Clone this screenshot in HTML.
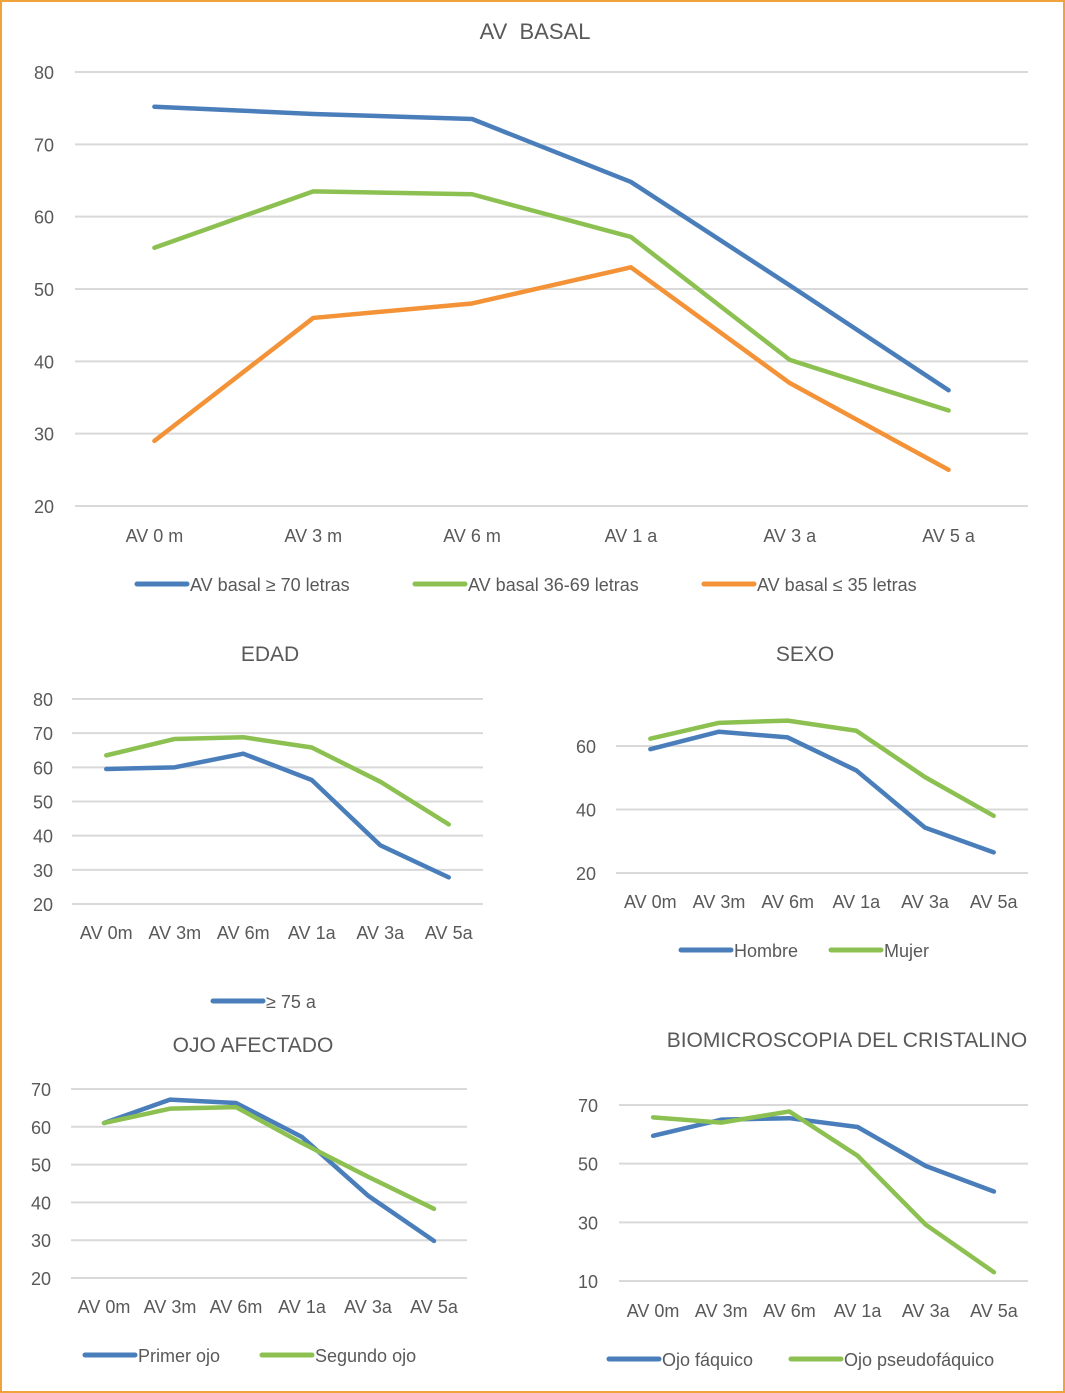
<!DOCTYPE html>
<html><head><meta charset="utf-8"><style>
html,body{margin:0;padding:0;background:#fff}
#wrap{position:relative;width:1061px;height:1389px;border:2px solid #F0A33A;overflow:hidden}
svg{position:absolute;left:-2px;top:-2px}
text{font-family:"Liberation Sans",sans-serif;fill:#595959;white-space:pre}
</style></head><body>
<div id="wrap">
<svg id="svg" width="1065" height="1393"></svg>
</div>
<script>
const BLUE="#4A7EBB", GREEN="#8CC152", ORANGE="#F39237";
// Chart 1: AV BASAL
const c1Cats=["AV 0 m","AV 3 m","AV 6 m","AV 1 a","AV 3 a","AV 5 a"];
const c1Ticks=[20,30,40,50,60,70,80];
const c1High=[75.2,74.2,73.5,64.8,50.5,36];
const c1Mid=[55.7,63.5,63.1,57.2,40.2,33.2];
const c1Low=[29,46,48,53,37,25];
// Chart 2: EDAD
const c2Cats=["AV 0m","AV 3m","AV 6m","AV 1a","AV 3a","AV 5a"];
const c2Ticks=[20,30,40,50,60,70,80];
const c2Old=[59.5,60,64,56.3,37.2,27.8];
const c2Young=[63.5,68.3,68.8,65.8,55.8,43.3];
// Chart 3: SEXO
const c3Cats=["AV 0m","AV 3m","AV 6m","AV 1a","AV 3a","AV 5a"];
const c3Ticks=[20,40,60];
const c3Hombre=[59,64.5,62.7,52.3,34.3,26.5];
const c3Mujer=[62.3,67.3,68,64.8,50.2,38];
// Chart 4: OJO AFECTADO
const c4Cats=["AV 0m","AV 3m","AV 6m","AV 1a","AV 3a","AV 5a"];
const c4Ticks=[20,30,40,50,60,70];
const c4Primer=[61,67.2,66.3,57.3,41.8,29.8];
const c4Segundo=[61,64.8,65.2,55.7,46.8,38.3];
// Chart 5: BIOMICROSCOPIA
const c5Cats=["AV 0m","AV 3m","AV 6m","AV 1a","AV 3a","AV 5a"];
const c5Ticks=[10,30,50,70];
const c5Faquico=[59.5,65,65.5,62.5,49.2,40.5];
const c5Pseudo=[65.8,64,67.8,52.7,29.2,13];

const svg=document.getElementById('svg');
const NS="http://www.w3.org/2000/svg";
function mk(tag,attrs,parent){const e=document.createElementNS(NS,tag);for(const k in attrs)e.setAttribute(k,attrs[k]);(parent||svg).appendChild(e);return e;}

function chart(cfg){
  const g=mk('g',{});
  
  
  const vmin=cfg.vmin,vmax=cfg.vmax;
  const y=v=>cfg.yTop+(vmax-v)/(vmax-vmin)*(cfg.yBot-cfg.yTop);
  const n=cfg.cats.length, step=(cfg.x1-cfg.x0)/n;
  const x=i=>cfg.x0+step*(i+0.5);
  const t=mk('text',{x:cfg.titleX,y:cfg.titleY,'text-anchor':'middle','font-size':cfg.titleSize||21},g);
  t.textContent=cfg.title;
  
  
  cfg.ticks.forEach(v=>{
    const l=mk('line',{x1:cfg.x0,x2:cfg.x1,y1:y(v),y2:y(v),stroke:'#D9D9D9','stroke-width':2},g);
    
    
    const tt=mk('text',{x:cfg.tickX,y:y(v)+7,'text-anchor':'end','font-size':cfg.fs},g);
    tt.textContent=v;
    
    
  });
  cfg.cats.forEach((c,i)=>{
    const tt=mk('text',{x:x(i),y:cfg.xLabY,'text-anchor':'middle','font-size':cfg.fs},g);
    tt.textContent=c;
    
    
  });
  cfg.series.forEach(s=>{
    const p=mk('polyline',{points:s.data.map((v,i)=>x(i)+','+y(v)).join(' '),fill:'none',stroke:s.color,'stroke-width':4.5,'stroke-linejoin':'round','stroke-linecap':'round'},g);
    
    
  });
  cfg.legend.forEach(L=>{
    const lg=mk('g',{},g);
    
    
    mk('line',{x1:L.x,x2:L.x+50,y1:cfg.legY,y2:cfg.legY,stroke:L.color,'stroke-width':5,'stroke-linecap':'round'},lg);
    const tt=mk('text',{x:L.x+53,y:cfg.legY+7,'font-size':cfg.fs},lg);
    tt.textContent=L.label;
  });
}
chart({name:'av-basal-chart',title:'AV  BASAL',titleX:535,titleY:39,titleSize:22,cats:c1Cats,ticks:c1Ticks,vmin:20,vmax:80,
  x0:75,x1:1028,yTop:72,yBot:506,tickX:54,xLabY:542,fs:18,legY:584,
  series:[{data:c1High,color:BLUE},{data:c1Mid,color:GREEN},{data:c1Low,color:ORANGE}],
  legend:[{x:137,label:'AV basal ≥ 70 letras',color:BLUE},{x:415,label:'AV basal 36-69 letras',color:GREEN},{x:704,label:'AV basal ≤ 35 letras',color:ORANGE}]});
chart({name:'edad-chart',title:'EDAD',titleX:270,titleY:661,cats:c2Cats,ticks:c2Ticks,vmin:20,vmax:80,
  x0:72,x1:483,yTop:699,yBot:904,tickX:53,xLabY:939,fs:18,legY:1001,
  series:[{data:c2Old,color:BLUE},{data:c2Young,color:GREEN}],
  legend:[{x:213,label:'≥ 75 a',color:BLUE}]});
chart({name:'sexo-chart',title:'SEXO',titleX:805,titleY:661,cats:c3Cats,ticks:c3Ticks,vmin:20,vmax:60,
  x0:616,x1:1028,yTop:746,yBot:873,tickX:596,xLabY:908,fs:18,legY:950,
  series:[{data:c3Hombre,color:BLUE},{data:c3Mujer,color:GREEN}],
  legend:[{x:681,label:'Hombre',color:BLUE},{x:831,label:'Mujer',color:GREEN}]});
chart({name:'ojo-afectado-chart',title:'OJO AFECTADO',titleX:253,titleY:1052,cats:c4Cats,ticks:c4Ticks,vmin:20,vmax:70,
  x0:71,x1:467,yTop:1089,yBot:1278,tickX:51,xLabY:1313,fs:18,legY:1355,
  series:[{data:c4Primer,color:BLUE},{data:c4Segundo,color:GREEN}],
  legend:[{x:85,label:'Primer ojo',color:BLUE},{x:262,label:'Segundo ojo',color:GREEN}]});
chart({name:'biomicroscopia-chart',title:'BIOMICROSCOPIA DEL CRISTALINO',titleX:847,titleY:1047,cats:c5Cats,ticks:c5Ticks,vmin:10,vmax:70,
  x0:619,x1:1028,yTop:1105,yBot:1281,tickX:598,xLabY:1317,fs:18,legY:1359,
  series:[{data:c5Faquico,color:BLUE},{data:c5Pseudo,color:GREEN}],
  legend:[{x:609,label:'Ojo fáquico',color:BLUE},{x:791,label:'Ojo pseudofáquico',color:GREEN}]});
</script>
</body></html>
